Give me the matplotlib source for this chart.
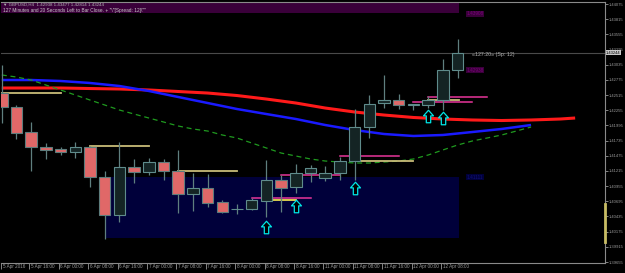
import matplotlib.pyplot as plt
from matplotlib.patches import Rectangle
from matplotlib.path import Path
from matplotlib.transforms import ScaledTranslation

plt.rcParams['font.family'] = ['Liberation Sans', 'DejaVu Sans']

# GBPUSD H4 bars, index 0 = 5 Apr 08:00
opens = [1.42550, 1.42311, 1.41882, 1.41625, 1.41591, 1.41540, 1.41625, 1.41111,
         1.40460, 1.41283, 1.41197, 1.41368, 1.41214, 1.40820, 1.40923, 1.40683,
         1.40560, 1.40563, 1.40700, 1.41060, 1.40940, 1.41180, 1.41094, 1.41180,
         1.41385, 1.41968, 1.42379, 1.42430, 1.42345, 1.42345, 1.42430, 1.42938]
highs = [1.43030, 1.42345, 1.42054, 1.41694, 1.41625, 1.41711, 1.41634, 1.41214,
         1.41711, 1.41420, 1.41437, 1.41420, 1.41574, 1.41180, 1.41163, 1.40717,
         1.40649, 1.40751, 1.41402, 1.41146, 1.41334, 1.41317, 1.41300, 1.41454,
         1.42276, 1.42516, 1.42859, 1.42533, 1.42370, 1.42499, 1.43133, 1.43477]
lows = [1.42036, 1.41762, 1.41214, 1.41420, 1.41488, 1.41437, 1.40940, 1.40049,
        1.40340, 1.41008, 1.41146, 1.41060, 1.40494, 1.40529, 1.40597, 1.40494,
        1.40477, 1.40546, 1.40426, 1.40512, 1.40837, 1.41026, 1.41043, 1.41060,
        1.41060, 1.41779, 1.42293, 1.42276, 1.42259, 1.42293, 1.42259, 1.42814]
closes = [1.42311, 1.41865, 1.41625, 1.41574, 1.41540, 1.41625, 1.41111, 1.40460,
          1.41283, 1.41197, 1.41368, 1.41214, 1.40820, 1.40923, 1.40666, 1.40512,
          1.40566, 1.40717, 1.41060, 1.40923, 1.41180, 1.41265, 1.41180, 1.41385,
          1.41968, 1.42362, 1.42430, 1.42345, 1.42362, 1.42430, 1.42938, 1.43244]

# moving averages (shifted forward past the last bar)
red_ma_x = [0, 2, 4, 6, 8, 10, 12, 14, 16, 18, 20, 22, 24, 26, 28, 30, 32, 34, 36, 38, 39]
red_ma = [1.42636, 1.42636, 1.42636, 1.42627, 1.42619, 1.42602, 1.42576, 1.42550,
          1.42507, 1.42447, 1.42379, 1.42293, 1.42225, 1.42173, 1.42131, 1.42105,
          1.42088, 1.42079, 1.42088, 1.42105, 1.42122]
blue_ma_x = [0, 2, 4, 6, 8, 10, 12, 14, 16, 18, 20, 22, 24, 26, 28, 30, 32, 34, 36]
blue_ma = [1.42773, 1.42773, 1.42756, 1.42722, 1.42670, 1.42585, 1.42482, 1.42379,
           1.42276, 1.42190, 1.42105, 1.42002, 1.41916, 1.41848, 1.41814, 1.41831,
           1.41882, 1.41934, 1.42002]
green_ma = [1.42859, 1.42824, 1.42773, 1.42687, 1.42602, 1.42516, 1.42430, 1.42345,
            1.42259, 1.42190, 1.42122, 1.42054, 1.41985, 1.41934, 1.41899, 1.41831,
            1.41779, 1.41694, 1.41608, 1.41522, 1.41471, 1.41420, 1.41385, 1.41368,
            1.41351, 1.41351, 1.41368, 1.41385, 1.41420, 1.41488, 1.41574, 1.41659,
            1.41728, 1.41779, 1.41831, 1.41899, 1.41968]

# level segments: (start bar, end bar, price)
khaki_levels = [(-2, 4, 1.42550), (6, 10, 1.41634), (12, 16, 1.41214),
                (24, 28, 1.41394), (29, 31.1, 1.42430)]
yellow_levels = [(18, 20, 1.40717)]
pink_levels = [(17, 21, 1.40760), (19, 23, 1.41146), (23, 27, 1.41471),
               (28, 32, 1.42396), (29, 33, 1.42482)]

arrow_bars = [18, 20, 24, 29, 30]
arrow_prices = [1.40255, 1.40614, 1.40923, 1.42156, 1.42122]

zone = (7, 31.1, 1.40066, 1.41111)
top_band = (-2, 31.1, 1.43921, 1.44200)
bid = 1.43244

tick_bars = [0, 2, 4, 6, 8, 10, 12, 14, 16, 18, 20, 22, 24, 26, 28, 30]
tick_labels = ['5 Apr 2016', '5 Apr 16:00', '6 Apr 00:00', '6 Apr 08:00', '6 Apr 16:00',
               '7 Apr 00:00', '7 Apr 08:00', '7 Apr 16:00', '8 Apr 00:00', '8 Apr 08:00',
               '8 Apr 16:00', '11 Apr 00:00', '11 Apr 08:00', '11 Apr 16:00',
               '12 Apr 00:00', '12 Apr 08:00']
price_ticks = [1.39655, 1.39915, 1.40175, 1.40435, 1.40695, 1.40955, 1.41215, 1.41475,
               1.41735, 1.41995, 1.42255, 1.42515, 1.42775, 1.43035, 1.43295, 1.43555,
               1.43815, 1.44075]

fig = plt.figure(figsize=(6.25, 2.73), dpi=100, facecolor='black')
ax = fig.add_axes([1 / 625, 10 / 273, 604 / 625, 261.5 / 273])
ax.set_facecolor('black')
ax.set_xlim(-0.054, 41.03)
ax.set_ylim(1.39638, 1.44118)

ax.add_patch(Rectangle((zone[0], zone[2]), zone[1] - zone[0], zone[3] - zone[2],
                       facecolor='#00003a', edgecolor='none', zorder=0))
ax.add_patch(Rectangle((top_band[0], top_band[2]), top_band[1] - top_band[0],
                       top_band[3] - top_band[2], facecolor='#3a003a',
                       edgecolor='none', zorder=0))

ax.axhline(bid, color='#4a4a4a', lw=0.8, zorder=1)

ax.plot(red_ma_x, red_ma, color='#ff1a1a', lw=2.2, zorder=2, solid_capstyle='butt')
ax.plot(blue_ma_x, blue_ma, color='#1a1aff', lw=1.8, zorder=2, solid_capstyle='butt')
ax.plot(range(len(green_ma)), green_ma, color='#1f9a1f', lw=0.9, ls=(0, (4, 3)), zorder=2)

for x0, x1, p in khaki_levels:
    ax.plot([x0, x1], [p, p], color='#c8bc78', lw=1.3, zorder=2)
for x0, x1, p in yellow_levels:
    ax.plot([x0, x1], [p, p], color='#e8dc50', lw=1.3, zorder=2)
for x0, x1, p in pink_levels:
    ax.plot([x0, x1], [p, p], color='#e8359a', lw=1.1, zorder=2)

# candles
for i in range(len(opens)):
    o, h, l, c = opens[i], highs[i], lows[i], closes[i]
    ax.vlines(i, l, h, color='#5f7f7f', lw=0.9, zorder=3)
    bull = c >= o
    body = max(abs(c - o), 0.00006)
    ax.bar(i, body, width=0.78, bottom=min(o, c),
           color='#142424' if bull else '#e06868',
           edgecolor='#5f8c8c' if bull else '#5c7c7c', lw=0.8, zorder=4)

arrow = Path([(0, 1), (0.8, 0.1), (0.35, 0.1), (0.35, -1), (-0.35, -1), (-0.35, 0.1),
              (-0.8, 0.1), (0, 1)],
             [Path.MOVETO] + [Path.LINETO] * 6 + [Path.CLOSEPOLY])
ax.plot(arrow_bars, arrow_prices, ls='none', marker=arrow, ms=9,
        mfc='black', mec='#00e5e5', mew=0.9, zorder=5)

# axes styling
ax.spines['left'].set_visible(False)
for side in ['top', 'right', 'bottom']:
    ax.spines[side].set_color('#8a8a8a')
    ax.spines[side].set_linewidth(0.8)

ax.yaxis.tick_right()
ax.set_yticks(price_ticks)
ax.set_yticklabels(['%.5f' % p for p in price_ticks])
ax.tick_params(axis='y', colors='#9a9a9a', labelsize=3.0, length=2, width=0.6, pad=1)

ax.set_xticks([max(b - 0.12, -0.04) for b in tick_bars])
ax.set_xticklabels(tick_labels, ha='left')
ax.tick_params(axis='x', colors='#9a9a9a', labelsize=3.3, length=4, width=0.6, pad=-3.6)
shift = ScaledTranslation(1.5 / 100, 0, fig.dpi_scale_trans)
for lbl in ax.get_xticklabels():
    lbl.set_transform(lbl.get_transform() + shift)

# price labels
ax.text(1.002, bid, '%.5f' % bid, transform=ax.get_yaxis_transform(), ha='left',
        va='center', fontsize=3.0, color='black', clip_on=False,
        bbox=dict(facecolor='#c8c8c8', edgecolor='none', pad=0.4))
ax.text(31.6, 1.43908, '1.43908', ha='left', va='center', fontsize=3.4,
        color='#7a007a', bbox=dict(facecolor='#3a003a', edgecolor='none', pad=0.4))
ax.text(31.6, 1.42938, '1.42938', ha='left', va='center', fontsize=3.4,
        color='#7a007a', bbox=dict(facecolor='#3a003a', edgecolor='none', pad=0.4))
ax.text(31.6, zone[3], '%.5f' % zone[3], ha='left', va='center', fontsize=3.4,
        color='#10107a', bbox=dict(facecolor='#00003a', edgecolor='none', pad=0.4))
ax.text(32.0, 1.43210, '\u00ab127:20\u00bb (Sp: 12)', ha='left', va='center',
        fontsize=3.8, color='#b4b4b4')

# right-axis marker bar
ax.plot([1.0, 1.0], [1.39998, 1.40649], transform=ax.get_yaxis_transform(),
        color='#c8bc64', lw=2, clip_on=False, zorder=6)

fig.text(3 / 625, 1 - 4.5 / 273, '\u25bc GBPUSD,H4  1.42938 1.43477 1.42814 1.43244',
         fontsize=3.2, color='#b4b4b4', va='center', ha='left')
fig.text(3 / 625, 1 - 10.5 / 273,
         '127 Minutes and 20 Seconds Left to Bar Close. + "\\"[Spread: 12]\\""',
         fontsize=3.4, color='#c8c8c8', va='center', ha='left')

fig.savefig('out.png', dpi=100, facecolor='black')
